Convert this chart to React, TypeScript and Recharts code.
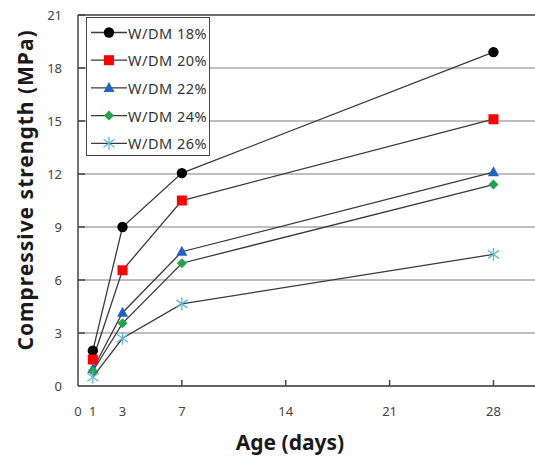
import React from 'react';
import { LineChart, Line, XAxis, YAxis, CartesianGrid, Legend, ReferenceLine } from 'recharts';

const days = [1, 3, 7, 28];
const wdm18 = [2.0, 9.0, 12.05, 18.9];
const wdm20 = [1.5, 6.55, 10.5, 15.1];
const wdm22 = [0.95, 4.15, 7.6, 12.1];
const wdm24 = [0.85, 3.55, 6.95, 11.4];
const wdm26 = [0.5, 2.7, 4.65, 7.45];
const seriesNames = ['W/DM 18%', 'W/DM 20%', 'W/DM 22%', 'W/DM 24%', 'W/DM 26%'];
const xTicks = [0, 1, 3, 7, 14, 21, 28];
const yTicks = [0, 3, 6, 9, 12, 15, 18, 21];

const data = days.map((d, i) => ({
  day: d,
  s18: wdm18[i],
  s20: wdm20[i],
  s22: wdm22[i],
  s24: wdm24[i],
  s26: wdm26[i],
}));

const FONT = '"Noto Sans", "Open Sans", sans-serif';
const LINE_COLOR = '#3a3a3a';

type Shape = 'circle' | 'square' | 'triangle' | 'diamond' | 'star';

const series: { key: string; name: string; shape: Shape; color: string }[] = [
  { key: 's18', name: seriesNames[0], shape: 'circle', color: '#000000' },
  { key: 's20', name: seriesNames[1], shape: 'square', color: '#ff0000' },
  { key: 's22', name: seriesNames[2], shape: 'triangle', color: '#1f64c0' },
  { key: 's24', name: seriesNames[3], shape: 'diamond', color: '#22a64a' },
  { key: 's26', name: seriesNames[4], shape: 'star', color: '#5fb6dc' },
];

function Marker({ cx, cy, shape, color, k }: { cx: number; cy: number; shape: Shape; color: string; k?: string }) {
  if (cx == null || cy == null || isNaN(cx) || isNaN(cy)) return null;
  switch (shape) {
    case 'circle':
      return <circle key={k} cx={cx} cy={cy} r={5.2} fill={color} />;
    case 'square':
      return <rect key={k} x={cx - 5} y={cy - 5} width={10} height={10} fill={color} />;
    case 'triangle':
      return <polygon key={k} points={`${cx},${cy - 6} ${cx + 5.5},${cy + 4} ${cx - 5.5},${cy + 4}`} fill={color} />;
    case 'diamond':
      return <polygon key={k} points={`${cx},${cy - 5} ${cx + 5},${cy} ${cx},${cy + 5} ${cx - 5},${cy}`} fill={color} />;
    case 'star':
      return (
        <g key={k} stroke={color} strokeWidth={1.3}>
          <line x1={cx} y1={cy - 6.5} x2={cx} y2={cy + 6.5} />
          <line x1={cx - 5.5} y1={cy - 4} x2={cx + 5.5} y2={cy + 4} />
          <line x1={cx - 5.5} y1={cy + 4} x2={cx + 5.5} y2={cy - 4} />
        </g>
      );
  }
  return null;
}

const XTick = (props: any) => {
  const { x, y, payload } = props;
  const v = payload.value;
  return (
    <g>
      {v > 0 && v % 7 === 0 && <line x1={x} y1={y} x2={x} y2={y - 6} stroke="#444" strokeWidth={1.5} />}
      <text x={x} y={y + 25} textAnchor="middle" dominantBaseline="central" fontFamily={FONT} fontSize={13} fill="#444">
        {v}
      </text>
    </g>
  );
};

const YTick = (props: any) => {
  const { x, y, payload } = props;
  const v = payload.value;
  return (
    <g>
      {v > 0 && <line x1={x} y1={y} x2={x + 7} y2={y} stroke="#444" strokeWidth={1.5} />}
      <text x={x - 16} y={y} textAnchor="end" dominantBaseline="central" fontFamily={FONT} fontSize={13} fill="#444">
        {v}
      </text>
    </g>
  );
};

const LegendBox = () => (
  <div
    style={{
      width: 124,
      height: 139,
      boxSizing: 'border-box',
      border: '1.5px solid #444',
      background: '#fff',
      position: 'relative',
    }}
  >
    <svg width={121} height={136} style={{ position: 'absolute', left: 0, top: 0 }}>
      {series.map((s, i) => {
        const cy = 14.5 + i * 27.7;
        return (
          <g key={s.key}>
            <line x1={4} y1={cy} x2={40} y2={cy} stroke={LINE_COLOR} strokeWidth={1.3} />
            <Marker cx={22} cy={cy} shape={s.shape} color={s.color} />
            <text
              x={41}
              y={cy}
              dominantBaseline="central"
              fontFamily={FONT}
              fontSize={14.5}
              letterSpacing={0.5}
              fill="#333"
            >
              {s.name}
            </text>
          </g>
        );
      })}
    </svg>
  </div>
);

export default function App() {
  return (
    <div style={{ position: 'absolute', left: 0, top: 0, background: '#fff' }}>
      <LineChart width={535} height={456} data={data} margin={{ top: 15, right: 0, bottom: 0, left: 0 }}>
        <CartesianGrid vertical={false} stroke="#a8a8a8" strokeWidth={1.5} />
        <ReferenceLine y={21} stroke="#555" strokeWidth={1.5} />
        <XAxis
          dataKey="day"
          type="number"
          domain={[0, 30.8]}
          ticks={xTicks}
          interval={0}
          allowDataOverflow
          height={70}
          tickLine={false}
          tickSize={0}
          tickMargin={0}
          axisLine={{ stroke: '#444', strokeWidth: 1.5 }}
          tick={<XTick />}
          label={{
            content: (p: any) => {
              const vb = p.viewBox;
              return (
                <text
                  x={290}
                  y={vb.y + 56}
                  textAnchor="middle"
                  dominantBaseline="central"
                  fontFamily={FONT}
                  fontWeight="bold"
                  fontSize={21}
                  fill="#1a1a1a"
                >
                  Age (days)
                </text>
              );
            },
          }}
        />
        <YAxis
          type="number"
          domain={[0, 21]}
          ticks={yTicks}
          interval={0}
          width={78}
          tickLine={false}
          tickSize={0}
          tickMargin={0}
          axisLine={{ stroke: '#444', strokeWidth: 1.5 }}
          tick={<YTick />}
          label={{
            content: (p: any) => {
              const vb = p.viewBox;
              const cx = vb.x + 25;
              const cy = 190;
              return (
                <text
                  x={cx}
                  y={cy}
                  transform={`rotate(-90, ${cx}, ${cy})`}
                  textAnchor="middle"
                  dominantBaseline="central"
                  fontFamily={FONT}
                  fontWeight="bold"
                  fontSize={21}
                  letterSpacing={1}
                  fill="#1a1a1a"
                >
                  Compressive strength (MPa)
                </text>
              );
            },
          }}
        />
        <Legend
          content={<LegendBox />}
          layout="vertical"
          align="center"
          verticalAlign="middle"
          wrapperStyle={{ left: 86, top: 17, width: 124, height: 139 }}
        />
        {series.map((s) => (
          <Line
            key={s.key}
            dataKey={s.key}
            name={s.name}
            stroke={LINE_COLOR}
            strokeWidth={1.3}
            isAnimationActive={false}
            legendType="none"
            dot={(p: any) => <Marker k={`${s.key}-${p.index}`} cx={p.cx} cy={p.cy} shape={s.shape} color={s.color} />}
            activeDot={false}
          />
        ))}
      </LineChart>
    </div>
  );
}
